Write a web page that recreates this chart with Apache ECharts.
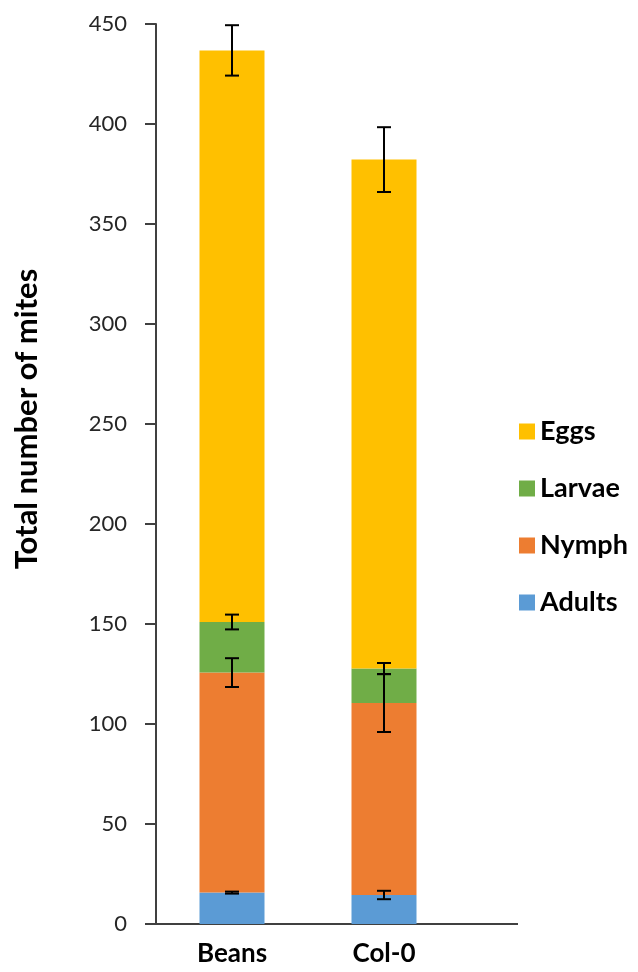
<!DOCTYPE html>
<html>
<head>
<meta charset="utf-8">
<script src="https://cdn.jsdelivr.net/npm/echarts@6/dist/echarts.min.js"></script>
<style>
html,body{margin:0;padding:0;background:#fff;}
#chart{width:638px;height:972px;}
</style>
</head>
<body>
<div id="chart"></div>
<script>
const categories = ['Beans', 'Col-0'];
const adults = [15.7, 14.5];
const nymph = [110.0, 96.0];
const larvae = [25.3, 17.2];
const eggs = [285.8, 254.5];
const adultsErr = [0.5, 2.1];
const nymphErr = [7.2, 14.5];
const larvaeErr = [3.7, 2.8];
const eggsErr = [12.6, 16.2];
const yTicks = [0, 50, 100, 150, 200, 250, 300, 350, 400, 450];

const stackSeries = [
  {name: 'Adults', values: adults, err: adultsErr, color: '#5B9BD5'},
  {name: 'Nymph', values: nymph, err: nymphErr, color: '#ED7D31'},
  {name: 'Larvae', values: larvae, err: larvaeErr, color: '#70AD47'},
  {name: 'Eggs', values: eggs, err: eggsErr, color: '#FFC000'}
];

// error bar data: [category index, cumulative top, error]
const errData = [];
categories.forEach((c, i) => {
  let cum = 0;
  stackSeries.forEach(s => {
    cum += s.values[i];
    errData.push([i, cum, s.err[i]]);
  });
});

const chart = echarts.init(document.getElementById('chart'), null, {renderer: 'canvas'});

const series = stackSeries.map(s => ({
  name: s.name,
  type: 'bar',
  stack: 'total',
  barWidth: 65,
  itemStyle: {color: s.color},
  data: s.values
}));

series.push({
  type: 'custom',
  name: 'err',
  z: 10,
  silent: true,
  data: errData,
  renderItem: function (params, api) {
    const x = api.value(0), top = api.value(1), e = api.value(2);
    const hi = api.coord([x, top + e]);
    const lo = api.coord([x, top - e]);
    const hw = 7;
    const style = {stroke: '#000', lineWidth: 2};
    return {
      type: 'group',
      children: [
        {type: 'line', shape: {x1: hi[0], y1: hi[1], x2: lo[0], y2: lo[1]}, style: style},
        {type: 'line', shape: {x1: hi[0] - hw, y1: hi[1], x2: hi[0] + hw, y2: hi[1]}, style: style},
        {type: 'line', shape: {x1: lo[0] - hw, y1: lo[1], x2: lo[0] + hw, y2: lo[1]}, style: style}
      ]
    };
  }
});

chart.setOption({
  animation: false,
  backgroundColor: '#fff',
  grid: {left: 156, right: 178, top: 24, bottom: 48, containLabel: false},
  legend: {
    orient: 'vertical',
    left: 514,
    top: 413,
    itemWidth: 16,
    itemHeight: 16,
    itemGap: 30,
    icon: 'rect',
    data: ['Eggs', 'Larvae', 'Nymph', 'Adults'],
    textStyle: {fontFamily: 'Lato', fontWeight: 'bold', fontSize: 27, lineHeight: 25, color: '#000'}
  },
  xAxis: {
    type: 'category',
    data: categories,
    axisLine: {show: true, lineStyle: {color: '#404040', width: 2}},
    axisTick: {show: false},
    axisLabel: {fontFamily: 'Lato', fontWeight: 'bold', fontSize: 26, color: '#000', margin: 17}
  },
  yAxis: {
    type: 'value',
    min: yTicks[0],
    max: yTicks[yTicks.length - 1],
    interval: 50,
    name: 'Total number of mites',
    nameLocation: 'middle',
    nameGap: 114,
    nameRotate: 90,
    nameTextStyle: {fontFamily: 'Lato', fontWeight: 'bold', fontSize: 31, color: '#000', padding: [0, 0, 0, 110]},
    splitLine: {show: false},
    axisLine: {show: true, lineStyle: {color: '#404040', width: 2}},
    axisTick: {show: true, length: 11, lineStyle: {color: '#404040', width: 2}},
    axisLabel: {fontFamily: 'Lato', fontSize: 22, color: '#262626', margin: 29}
  },
  graphic: [{
    type: 'line',
    shape: {x1: 459, y1: 924, x2: 518, y2: 924},
    style: {stroke: '#404040', lineWidth: 2}
  }],
  series: series
});
</script>
</body>
</html>
